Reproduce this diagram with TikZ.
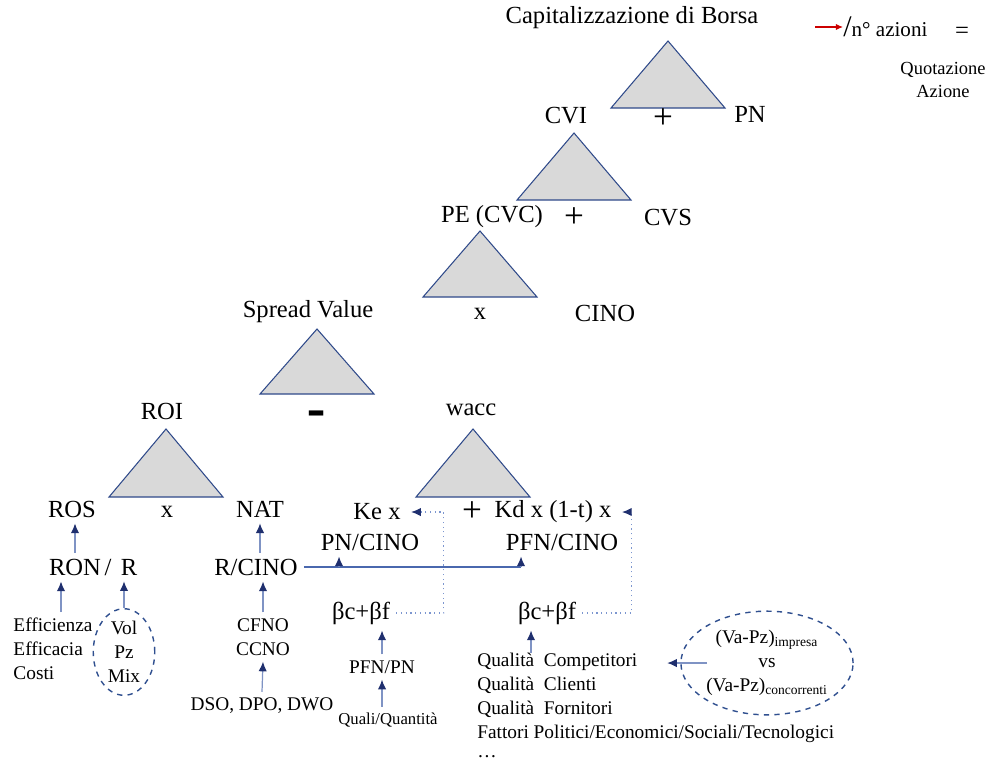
\documentclass[tikz,border=0pt]{standalone}
\usepackage{fontspec}
\setmainfont{Liberation Serif}
\definecolor{triborder}{HTML}{2F4A8A}
\definecolor{trifill}{HTML}{D9D9D9}
\definecolor{shaftblue}{HTML}{7F93C4}
\definecolor{tipblue}{HTML}{1F2F6E}
\definecolor{dotblue}{HTML}{7C96CF}
\definecolor{lineblue}{HTML}{4A68AE}
\definecolor{ellblue}{HTML}{2F4F8F}
\definecolor{newred}{rgb}{0.8,0,0}
\usetikzlibrary{arrows.meta, shapes.geometric, calc}
\tikzset{
  big/.style = {font = \fontsize{14}{16}\selectfont},
  small/.style = {font = \fontsize{11}{13.6}\selectfont},
  tri/.style = {draw = triborder, fill = trifill, line width = 0.6pt},
  up/.style = {draw = shaftblue, line width = 0.7pt, -{Latex[length=5.5pt, width=4.8pt, color=tipblue]}},
  dotarr/.style = {draw = dotblue, dotted, line width = 0.7pt, shorten >= 2.5pt, -{Latex[length=5.5pt, width=4.8pt, color=tipblue]}},
  ring/.style = {ellipse, draw = ellblue, dashed, line width = 0.8pt, inner sep = 0pt, align = center}
}

\begin{document}
\begin{tikzpicture}[x = 0.02cm, y = -0.02cm]
\useasboundingbox (0,0) rectangle (986,765);
% triangles
\draw[tri] (668,41) -- ++(57,67) -- ++(-114,0) -- cycle;
\draw[tri] (574,133) -- ++(57,67) -- ++(-114,0) -- cycle;
\draw[tri] (480,231) -- ++(57,66) -- ++(-114,0) -- cycle;
\draw[tri] (317,329) -- ++(57,65) -- ++(-114,0) -- cycle;
\draw[tri] (166,429) -- ++(57,68) -- ++(-114,0) -- cycle;
\draw[tri] (473,429) -- ++(57,68) -- ++(-114,0) -- cycle;
% top
\node[big] (cap) at (632,18) {Capitalizzazione di Borsa};
\node[anchor = west, inner sep = 0pt] (quota) at (843,27) {{\fontsize{17}{17}\selectfont /}{\fontsize{12}{14}\selectfont n° azioni}};
\coordinate (redstart) at (815,27);
\draw[-{Latex[length=4pt, width=3.5pt]}, newred, line width = 0.6pt] (redstart) -- (quota.west);
\node[big] (eq) at (962,33) {=};
\node[font = \fontsize{10.5}{13}\selectfont, align = center] (qaz) at (943,80) {Quotazione\\Azione};
\node[big] (cvi) at (566,116) {CVI};
\node[font = \fontsize{20}{20}\selectfont] (plusa) at (663,119) {+};
\node[big] (pn) at (750,114) {PN};
\node[big] (pecvc) at (492,217) {PE (CVC)};
\node[font = \fontsize{20}{20}\selectfont] (plusb) at (574,218) {+};
\node[big] (cvs) at (668,218) {CVS};
\node[big] (xa) at (480,314) {x};
\node[big] (cino) at (605,313) {CINO};
\node[big] (spread) at (308,312) {Spread Value};
\node[font = \fontsize{16}{16}\selectfont\bfseries] (minus) at (317,421) {\scalebox{1}[2.6]{–}};
\node[big] (roi) at (162,411) {ROI};
\node[big] (wacc) at (471,410) {wacc};
% ROI branch
\node[big] (ros) at (72,509) {ROS};
\node[big] (xb) at (167,512) {x};
\node[big] (nat) at (260,509) {NAT};
\node[big] (ron) at (75,567) {RON};
\node[big] (slash) at (108,567) {/};
\node[big] (rr) at (129,567) {R};
\node[small, align = left] (effic) at (53,649) {Efficienza\\Efficacia\\Costi};
\node[ring, small, minimum width = 35pt, minimum height = 49pt] (volpz) at (124,652) {Vol\\Pz\\Mix};
\node[big] (rcino) at (256,567) {R/CINO};
\node[small, align = center] (cfno) at (263,637) {CFNO\\CCNO};
\node[small] (dso) at (262,706) {DSO, DPO, DWO};
% wacc branch
\node[big] (ke) at (377,512) {Ke x};
\node[font = \fontsize{20}{20}\selectfont] (plusc) at (472,512) {+};
\node[big] (kd) at (553,512) {Kd x (1-t) x};
\node[big] (pncino) at (370,542) {PN/CINO};
\node[big] (pfncino) at (562,542) {PFN/CINO};
\node[big] (bcbfa) at (361,613) {βc+βf};
\node[big] (bcbfb) at (547,613) {βc+βf};
\node[small] (pfnpn) at (382,667) {PFN/PN};
\node[font = \fontsize{9.5}{11}\selectfont] (quali) at (388,720) {Quali/Quantità};
\node[small, align = left, anchor = north west, inner sep = 0pt] (qual) at (477,653) {Qualità\ \ Competitori\\Qualità\ \ Clienti\\Qualità\ \ Fornitori\\Fattori Politici/Economici/Sociali/Tecnologici\\[-3pt]\dots};
\node[ring, small, minimum width = 98pt, minimum height = 59pt] (vsell) at (767,663) {(Va-Pz)\textsubscript{impresa}\\vs\\(Va-Pz)\textsubscript{concorrenti}};
% connectors
\coordinate (ea) at ($(effic.north)+(8,0)$);
\draw[up] (ron.north) -- (ron.north |- ros.south);
\draw[up] (ea) -- (ea |- ron.south);
\draw[up] (volpz.north) -- (volpz.north |- rr.south);
\draw[up] (rcino.north -| nat) -- (nat.south);
\draw[up] (cfno.north) -- (cfno.north |- rcino.south);
\draw[up] (dso.north) -- (cfno.south);
\coordinate (ba) at (339,567);
\coordinate (bb) at (521,567);
\draw[lineblue, line width = 1.1pt] (rcino.east) -- (bb);
\draw[up] (ba) -- (ba |- pncino.south);
\draw[up] (bb) -- (bb |- pfncino.south);
\draw[up] (pfnpn.north) -- (pfnpn.north |- bcbfa.south);
\draw[up] (quali.north -| pfnpn) -- (pfnpn.south);
\coordinate (qa) at ($(bcbfb.south)+(-16,0)$);
\draw[up] (qual.north -| qa) -- (qa);
\draw[up] ($(vsell.west)+(27,0)$) -- ($(vsell.west)+(-13,0)$);
\coordinate (ka) at ($(ke.east)+(37,0)$);
\coordinate (kb) at ($(kd.east)+(14,0)$);
\draw[dotarr] (bcbfa.east) -| (ka) -- (ke.east);
\draw[dotarr] (bcbfb.east) -| (kb) -- (kd.east);
\end{tikzpicture}
\end{document}
